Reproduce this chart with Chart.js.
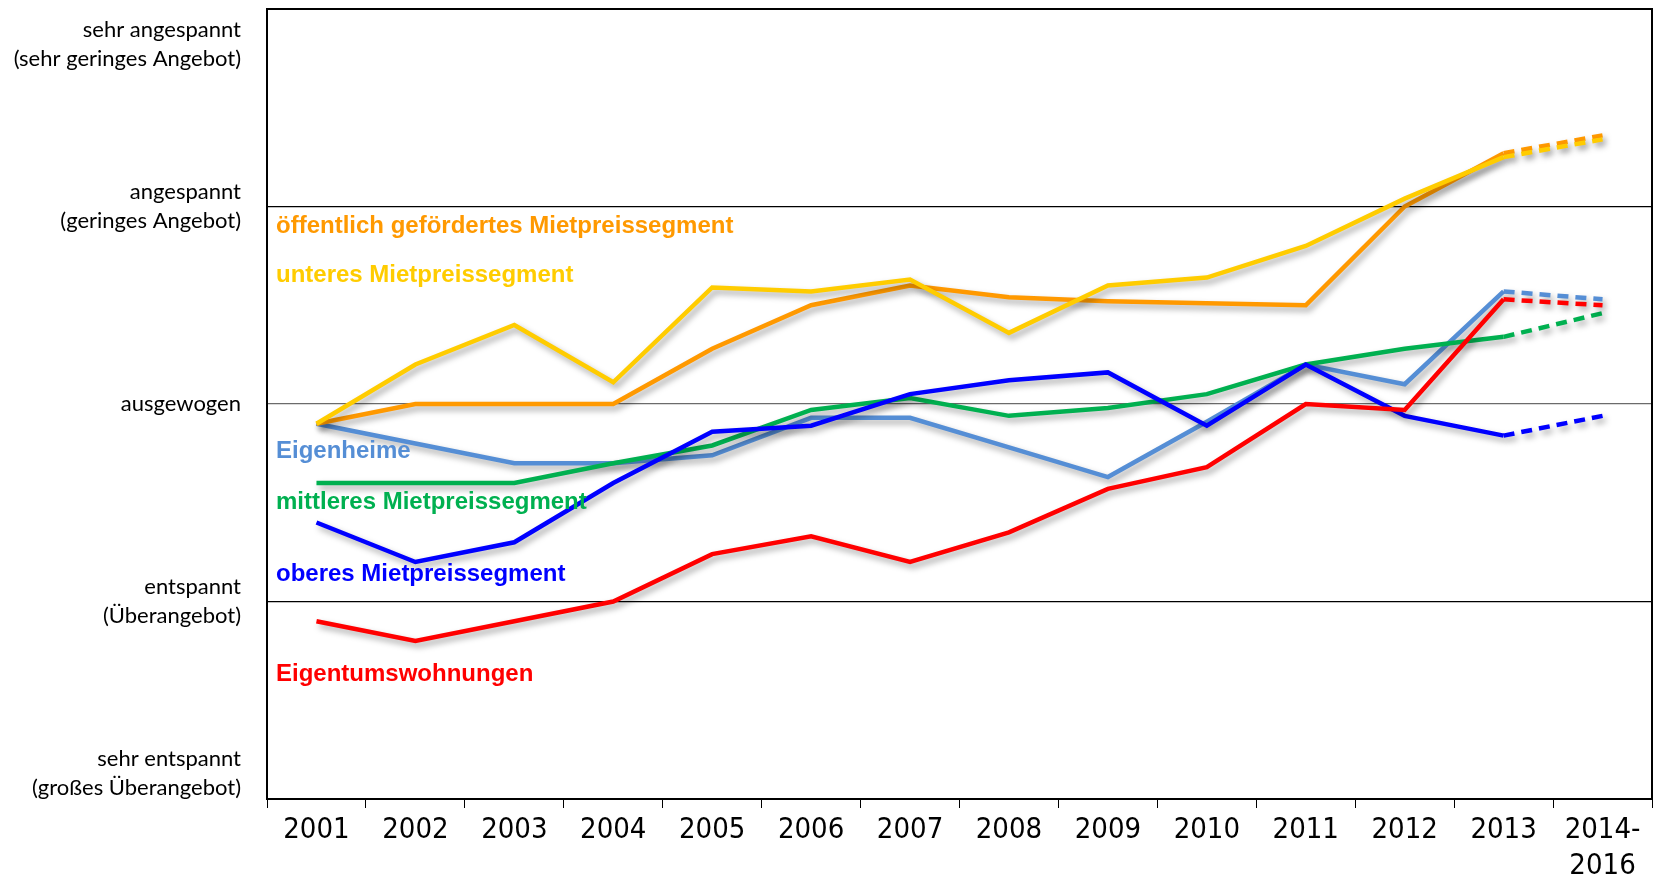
<!DOCTYPE html>
<html lang="de">
<head>
<meta charset="utf-8">
<title>Wohnungsmarktlage</title>
<script src="https://cdn.jsdelivr.net/npm/chart.js@4/dist/chart.umd.min.js"></script>
<style>
    html, body { margin: 0; padding: 0; background: #fff; }
    #wrap { width: 1659px; height: 882px; position: relative; }
</style>
</head>
<body>
<div id="wrap"><canvas id="chart"></canvas></div>
<script>
// Kategorien (x-Achse)
const years = ['2001', '2002', '2003', '2004', '2005', '2006', '2007', '2008', '2009', '2010', '2011', '2012', '2013', ['2014-', '2016']];

// Achsenbeschriftung (y-Achse): Position auf der Skala 0..4 und Text
const yTickValues = [0.13, 1, 2, 3, 3.82];
const yTickLabels = [
    ['sehr entspannt', '(großes Überangebot)'],
    ['entspannt', '(Überangebot)'],
    'ausgewogen',
    ['angespannt', '(geringes Angebot)'],
    ['sehr angespannt', '(sehr geringes Angebot)']
];

// Reihen (0 = sehr entspannt ... 4 = sehr angespannt)
const oeffentlich = [1.90, 2.00, 2.00, 2.00, 2.28, 2.50, 2.60, 2.54, 2.52, 2.51, 2.50, 3.00, 3.27, 3.36];
const unteres     = [1.90, 2.20, 2.40, 2.11, 2.59, 2.57, 2.63, 2.36, 2.60, 2.64, 2.80, 3.04, 3.25, 3.34];
const eigenheime  = [1.90, 1.80, 1.70, 1.70, 1.74, 1.93, 1.93, 1.78, 1.63, 1.91, 2.20, 2.10, 2.57, 2.53];
const mittleres   = [1.60, 1.60, 1.60, 1.70, 1.79, 1.97, 2.03, 1.94, 1.98, 2.05, 2.20, 2.28, 2.34, 2.46];
const oberes      = [1.40, 1.20, 1.30, 1.60, 1.86, 1.89, 2.05, 2.12, 2.16, 1.89, 2.20, 1.94, 1.84, 1.94];
const eigentum    = [0.90, 0.80, 0.90, 1.00, 1.24, 1.33, 1.20, 1.35, 1.57, 1.68, 2.00, 1.97, 2.53, 2.50];

// Beschriftungen im Diagramm (Höhe auf der Skala)
const seriesNames = ['öffentlich gefördertes Mietpreissegment', 'unteres Mietpreissegment', 'Eigenheime',
    'mittleres Mietpreissegment', 'oberes Mietpreissegment', 'Eigentumswohnungen'];
const seriesLabelAt = [2.90, 2.65, 1.76, 1.50, 1.135, 0.63];
const seriesColors = ['#FF9900', '#FFCC00', '#558ED5', '#00B050', '#0000FF', '#FF0000'];
const seriesData = [oeffentlich, unteres, eigenheime, mittleres, oberes, eigentum];
const drawOrder = [2, 1, 5, 4, 3, 0];

// Letztes Segment (Prognose) gestrichelt
const lastIndex = years.length - 1;

function makeDataset(i) {
    return {
        label: seriesNames[i],
        data: seriesData[i],
        borderColor: seriesColors[i],
        backgroundColor: seriesColors[i],
        borderWidth: 4.5,
        pointRadius: 0,
        pointHoverRadius: 0,
        tension: 0,
        fill: false,
        order: drawOrder[i],
        segment: {
            borderDash: ctx => ctx.p1DataIndex === lastIndex ? [11, 7] : undefined
        }
    };
}

// Schatten unter den Linien
const shadowPlugin = {
    id: 'lineShadow',
    beforeDatasetDraw(chart) {
        const ctx = chart.ctx;
        ctx.save();
        ctx.shadowColor = 'rgba(0, 0, 0, 0.35)';
        ctx.shadowBlur = 6;
        ctx.shadowOffsetX = 3;
        ctx.shadowOffsetY = 4;
    },
    afterDatasetDraw(chart) {
        chart.ctx.restore();
    }
};

// Rahmen um die Zeichenfläche + Reihenbeschriftungen
const framePlugin = {
    id: 'frame',
    afterDatasetsDraw(chart) {
        const ctx = chart.ctx;
        const a = chart.chartArea;
        const y = chart.scales.y;
        ctx.save();
        ctx.font = 'bold 24px "Liberation Sans", Arial, sans-serif';
        ctx.textBaseline = 'middle';
        ctx.textAlign = 'left';
        seriesNames.forEach((name, i) => {
            ctx.fillStyle = seriesColors[i];
            ctx.fillText(name, a.left + 9, y.getPixelForValue(seriesLabelAt[i]));
        });
        ctx.strokeStyle = '#000';
        ctx.lineWidth = 2;
        ctx.strokeRect(a.left, a.top, a.right - a.left, a.bottom - a.top);
        ctx.restore();
    }
};

window.addEventListener('load', () => {
    const ctx = document.getElementById('chart').getContext('2d');
    new Chart(ctx, {
        type: 'line',
        data: {
            labels: years,
            datasets: seriesData.map((_, i) => makeDataset(i))
        },
        options: {
            responsive: true,
            maintainAspectRatio: false,
            animation: false,
            layout: { padding: { top: 9, right: 7, left: 0, bottom: 0 } },
            plugins: {
                legend: { display: false },
                tooltip: { enabled: false }
            },
            scales: {
                x: {
                    type: 'category',
                    offset: true,
                    grid: {
                        offset: true,
                        drawOnChartArea: false,
                        drawTicks: true,
                        tickLength: 9,
                        color: '#000',
                        lineWidth: 1
                    },
                    border: { display: true, color: '#000', width: 2 },
                    ticks: {
                        color: '#000',
                        maxRotation: 0,
                        autoSkip: false,
                        padding: 4,
                        font: { family: '"Liberation Sans Narrow", "DejaVu Sans Condensed", Lato, sans-serif', size: 29, lineHeight: 1.25 }
                    },
                    afterFit(scale) {
                        scale.height = 83;
                        scale.paddingLeft = 0;
                        scale.paddingRight = 0;
                    }
                },
                y: {
                    min: 0,
                    max: 4,
                    afterBuildTicks(scale) {
                        scale.ticks = yTickValues.map(v => ({ value: v }));
                    },
                    grid: {
                        drawTicks: false,
                        color: c => {
                            const v = c.tick ? c.tick.value : null;
                            if (v === 2) return '#6b6b6b';
                            if (v === 1 || v === 3) return '#000';
                            return 'rgba(0,0,0,0)';
                        },
                        lineWidth: 1.2
                    },
                    border: { display: true, color: '#000', width: 2 },
                    ticks: {
                        color: '#000',
                        padding: 26,
                        font: { family: 'Lato', size: 22, lineHeight: 1.3 },
                        callback: (value, index) => yTickLabels[index]
                    },
                    afterFit(scale) {
                        scale.width = 267;
                        scale.paddingTop = 0;
                        scale.paddingBottom = 0;
                    }
                }
            }
        },
        plugins: [shadowPlugin, framePlugin]
    });
});
</script>
</body>
</html>
